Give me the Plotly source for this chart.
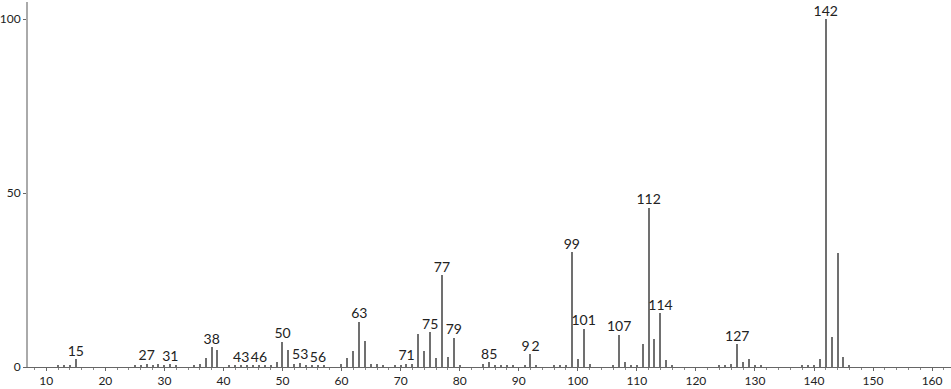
import plotly.graph_objects as go

mz = [12, 13, 14, 15, 25, 26, 27, 28, 29, 30, 31, 32, 35, 36, 37, 38, 39, 41, 42, 43, 44, 45, 46, 47, 48,
      49, 50, 51, 52, 53, 54, 55, 56, 57, 60, 61, 62, 63, 64, 65, 66, 67, 69, 70, 71, 72, 73, 74, 75, 76,
      77, 78, 79, 80, 84, 85, 86, 87, 88, 89, 91, 92, 93, 96, 97, 98, 99, 100, 101, 102, 106, 107, 108,
      109, 110, 111, 112, 113, 114, 115, 116, 124, 125, 126, 127, 128, 129, 130, 131, 138, 139, 140, 141,
      142, 143, 144, 145, 146]
intensity = [0.3, 0.3, 0.5, 2.3, 0.3, 0.7, 1.0, 0.5, 1.0, 0.3, 0.8, 0.3, 0.3, 0.8, 2.6, 5.7, 5.0, 0.3, 0.4, 0.5, 0.3, 0.3, 0.4, 0.3, 0.3,
             1.4, 7.2, 5.0, 1.0, 1.2, 0.5, 0.5, 0.3, 0.3, 1.0, 2.6, 4.6, 13.0, 7.5, 0.8, 0.8, 0.4, 0.3, 0.5, 1.0, 1.0, 9.5, 4.6, 10.0, 2.6,
             26.4, 2.9, 8.4, 0.5, 1.0, 1.4, 0.5, 0.3, 0.3, 0.3, 0.3, 3.7, 0.5, 0.3, 0.3, 0.5, 33.0, 2.3, 11.0, 1.0, 0.5, 9.2, 1.5,
             0.3, 0.3, 6.6, 45.7, 8.0, 15.5, 2.0, 0.5, 0.3, 0.3, 1.0, 6.6, 1.3, 2.3, 0.4, 0.3, 0.5, 0.5, 0.5, 2.3,
             100.0, 8.6, 32.8, 2.9, 0.5]

labelled = [15, 27, 31, 38, 43, 46, 50, 53, 56, 63, 71, 75, 77, 79, 85, 92, 99, 101, 107, 112, 114, 127, 142]
label_text = ["15", "27", "31", "38", "43", "46", "50", "53", "56", "63", "71", "75", "77", "79", "85", "9\u20092",
              "99", "101", "107", "112", "114", "127", "142"]

lookup = dict(zip(mz, intensity))
label_y = [lookup[m] for m in labelled]

fig = go.Figure()
fig.add_trace(go.Bar(x=mz, y=intensity, width=0.2, marker=dict(color="#707070", line=dict(width=0)),
                     showlegend=False, hoverinfo="x+y"))
fig.add_trace(go.Scatter(x=labelled, y=label_y, mode="text", text=label_text, textposition="top center",
                         textfont=dict(family="Lato, Open Sans, sans-serif", size=14, color="#222"),
                         cliponaxis=False, showlegend=False))

fig.update_layout(
    width=951, height=389,
    margin=dict(l=28, r=0, t=2, b=22, autoexpand=False),
    paper_bgcolor="white", plot_bgcolor="white",
    bargap=0,
    font=dict(family="Lato, Open Sans, sans-serif", size=12, color="#222"),
    xaxis=dict(range=[6.9, 163.2], tickmode="array", tickvals=list(range(10, 161, 10)),
               automargin=False,
               showgrid=False, zeroline=False, showline=True, linecolor="#666", linewidth=1,
               ticks="outside", ticklen=3, tickcolor="#666",
               minor=dict(ticks="outside", ticklen=2, tickcolor="#888", dtick=2, tick0=0),
               tickfont=dict(size=12)),
    yaxis=dict(range=[0, 104.9], tickvals=[0, 50, 100], showgrid=False, zeroline=False,
               automargin=False,
               showline=True, linecolor="#aaa", linewidth=2, ticks="outside", ticklen=3,
               tickcolor="#666", tickfont=dict(size=12)),
)

fig.write_html("out.html")
